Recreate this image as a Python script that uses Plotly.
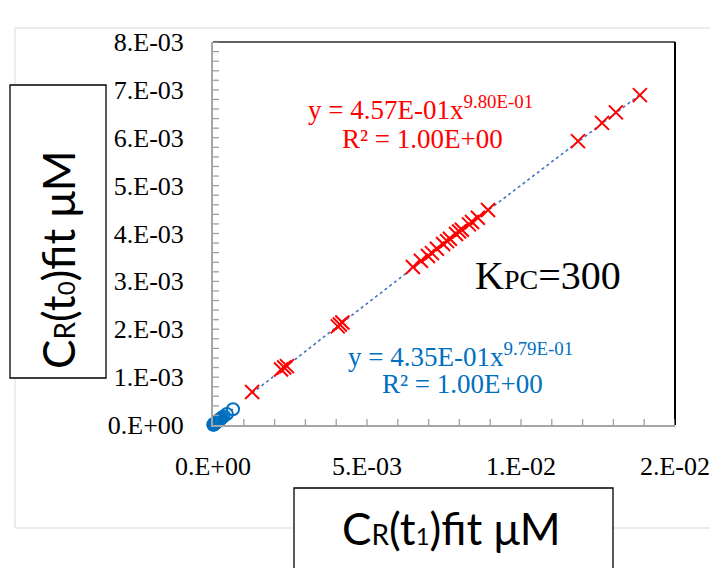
import numpy as np
import plotly.graph_objects as go

# C_R(t1) fit vs C_R(t0) fit, in uM (values x 1e-3)
red_x = [1.27, 2.21, 2.31, 2.40, 4.05, 4.12, 4.20, 6.49, 6.75, 6.98, 7.11, 7.27, 7.47,
         7.60, 7.69, 7.89, 7.99, 8.08, 8.31, 8.41, 8.60, 8.93, 11.85, 12.63, 13.08, 13.86]
red_y = [0.69, 1.16, 1.20, 1.23, 2.06, 2.10, 2.14, 3.30, 3.43, 3.53, 3.59, 3.68, 3.78,
         3.84, 3.89, 3.99, 4.04, 4.08, 4.19, 4.24, 4.33, 4.49, 5.93, 6.31, 6.53, 6.89]

blue_x = [0.01, 0.02, 0.03, 0.04, 0.05, 0.06, 0.07, 0.08, 0.10, 0.11, 0.13, 0.15, 0.17,
          0.19, 0.22, 0.25, 0.29, 0.34, 0.45, 0.65]
blue_y = [0.006, 0.011, 0.016, 0.021, 0.027, 0.032, 0.037, 0.042, 0.053, 0.058, 0.068,
          0.079, 0.089, 0.100, 0.115, 0.130, 0.150, 0.180, 0.230, 0.330]

# power-law fits y = a * x^b
red_fit = (4.57e-01, 9.80e-01)
blue_fit = (4.35e-01, 9.79e-01)

x_tickvals = [0, 0.005, 0.01, 0.015]
x_ticktext = ["0.E+00", "5.E-03", "1.E-02", "2.E-02"]
y_tickvals = [i * 1e-3 for i in range(9)]
y_ticktext = ["0.E+00"] + [f"{i}.E-03" for i in range(1, 9)]
x_minor_step = 0.001
y_minor_step = 0.0002

red_x = [v * 1e-3 for v in red_x]
red_y = [v * 1e-3 for v in red_y]
blue_x = [v * 1e-3 for v in blue_x]
blue_y = [v * 1e-3 for v in blue_y]

RED = "#FF0000"
BLUE = "#0070C0"
TREND = "#4472C4"
TICK = "#A0A0A0"
SERIF = "Liberation Serif, Times New Roman, serif"
SANS = "Lato, Open Sans, sans-serif"

W, H = 710, 568
L, R, T, B = 213, 675, 42, 425
TICK_LEN = 6


def px(x):
    return (x - L) / (R - L)


def py(y):
    return (B - y) / (B - T)


def trend(xs, coef):
    xx = np.linspace(min(xs), max(xs), 200)
    return xx, coef[0] * xx ** coef[1]


fig = go.Figure()

for xs, coef in ((blue_x, blue_fit), (red_x, red_fit)):
    tx, ty = trend(xs, coef)
    fig.add_trace(go.Scatter(x=tx, y=ty, mode="lines", hoverinfo="skip",
                             line=dict(color=TREND, width=1.6, dash="dot")))

fig.add_trace(go.Scatter(x=blue_x, y=blue_y, mode="markers", cliponaxis=False,
                         marker=dict(symbol="circle-open", size=12, color=BLUE,
                                     line=dict(color=BLUE, width=2))))
fig.add_trace(go.Scatter(x=red_x, y=red_y, mode="markers", cliponaxis=False,
                         marker=dict(symbol="x-thin", size=14, color=RED,
                                     line=dict(color=RED, width=2))))

axis_common = dict(showgrid=False, zeroline=False, showline=True, linecolor="#A6A6A6",
                   linewidth=2, ticks="", tickmode="array", automargin=False,
                   ticklabeloverflow="allow",
                   tickfont=dict(family=SERIF, size=26, color="#000000"))

fig.update_xaxes(range=[0, 0.015], tickvals=x_tickvals, ticktext=x_ticktext,
                 ticklabelstandoff=17, **axis_common)
fig.update_yaxes(range=[0, 0.008], tickvals=y_tickvals, ticktext=y_ticktext,
                 ticklabelstandoff=22, **axis_common)

shapes = [
    # outer chart border
    dict(type="line", x0=px(15), x1=px(712), y0=py(28), y1=py(28),
         line=dict(color="#D9D9D9", width=1)),
    dict(type="line", x0=px(15), x1=px(15), y0=py(28), y1=py(528),
         line=dict(color="#D9D9D9", width=1)),
    dict(type="line", x0=px(15), x1=px(712), y0=py(528), y1=py(528),
         line=dict(color="#D9D9D9", width=1)),
    # plot frame, top and right
    dict(type="line", x0=0, x1=1, y0=1, y1=1, line=dict(color="#606060", width=2)),
    dict(type="line", x0=1, x1=1, y0=0, y1=1, line=dict(color="#000000", width=2)),
    # axis title boxes
    dict(type="rect", x0=px(10), x1=px(106), y0=py(85), y1=py(378),
         fillcolor="#FFFFFF", line=dict(color="#000000", width=1.3)),
    dict(type="rect", x0=px(294), x1=px(613), y0=py(488), y1=py(575),
         fillcolor="#FFFFFF", line=dict(color="#000000", width=1.3)),
]
for s in shapes:
    s.update(xref="paper", yref="paper", layer="above")

# inward tick marks along the bottom and left axes
n_x = int(round(0.015 / x_minor_step))
for i in range(1, n_x + 1):
    xv = i * x_minor_step
    shapes.append(dict(type="line", xref="x", yref="paper", x0=xv, x1=xv,
                       y0=0, y1=TICK_LEN / (B - T), layer="above",
                       line=dict(color=TICK, width=1.3)))
n_y = int(round(0.008 / y_minor_step))
for i in range(1, n_y + 1):
    yv = i * y_minor_step
    shapes.append(dict(type="line", xref="paper", yref="y", x0=0, x1=TICK_LEN / (R - L),
                       y0=yv, y1=yv, layer="above",
                       line=dict(color=TICK, width=1.3)))

annotations = [
    dict(x=px(420), y=py(108), text="y = 4.57E-01x<sup>9.80E-01</sup>",
         font=dict(family=SERIF, size=27, color=RED)),
    dict(x=px(422), y=py(139), text="R² = 1.00E+00",
         font=dict(family=SERIF, size=27, color=RED)),
    dict(x=px(460), y=py(355), text="y = 4.35E-01x<sup>9.79E-01</sup>",
         font=dict(family=SERIF, size=27, color=BLUE)),
    dict(x=px(462), y=py(384), text="R² = 1.00E+00",
         font=dict(family=SERIF, size=27, color=BLUE)),
    dict(x=px(548), y=py(275),
         text='K<span style="font-size:28px">PC</span>=300',
         font=dict(family=SERIF, size=40, color="#000000")),
    dict(x=px(58), y=py(260), textangle=-90,
         text='C<span style="font-size:28px">R</span>(t<span style="font-size:24px">0</span>)fit μM',
         font=dict(family=SANS, size=44, color="#000000")),
    dict(x=px(451), y=py(528),
         text='C<span style="font-size:28px">R</span>(t<span style="font-size:24px">1</span>)fit μM',
         font=dict(family=SANS, size=44, color="#000000")),
]
for a in annotations:
    a.update(xref="paper", yref="paper", showarrow=False, xanchor="center", yanchor="middle")

fig.update_layout(width=W, height=H, autosize=False,
                  margin=dict(l=L, r=W - R, t=T, b=H - B),
                  paper_bgcolor="#FFFFFF", plot_bgcolor="#FFFFFF",
                  showlegend=False, shapes=shapes, annotations=annotations)

fig.write_html("out.html")
